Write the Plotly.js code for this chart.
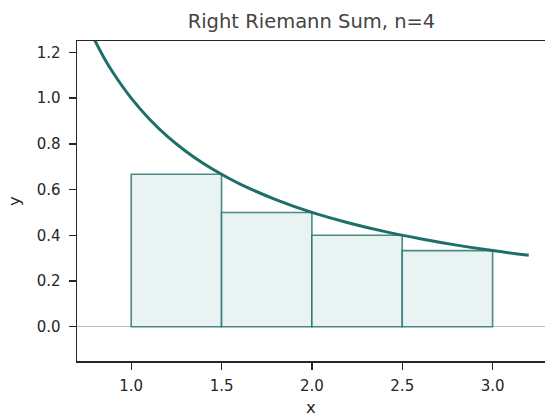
<!DOCTYPE html>
<html>
<head>
<meta charset="utf-8">
<script src="https://cdn.plot.ly/plotly-3.0.1.min.js"></script>
<style>html,body{margin:0;padding:0;background:#fff;}#chart{width:545px;height:417px;}</style>
</head>
<body>
<div id="chart"></div>
<script>
// Curve points y = 1/x
const curveX = [0.79, 0.85, 0.9, 1.0, 1.1, 1.2, 1.3, 1.4, 1.5, 1.6, 1.8, 2.0, 2.2, 2.4, 2.6, 2.8, 3.0, 3.2];
const curveY = [1.266, 1.176, 1.111, 1.0, 0.909, 0.833, 0.769, 0.714, 0.667, 0.625, 0.556, 0.5, 0.455, 0.417, 0.385, 0.357, 0.333, 0.3125];
// Right Riemann rectangles
const rectLeft = [1.0, 1.5, 2.0, 2.5];
const rectWidth = [0.5, 0.5, 0.5, 0.5];
const rectHeight = [0.667, 0.5, 0.4, 0.333];
const xTicks = [1.0, 1.5, 2.0, 2.5, 3.0];
const yTicks = [0.0, 0.2, 0.4, 0.6, 0.8, 1.0, 1.2];

const teal = '#1f6f69';
const axisColor = '#262626';
const font = 'DejaVu Sans, sans-serif';

const rects = {
  type: 'bar',
  x: rectLeft.map((l, i) => l + rectWidth[i] / 2),
  y: rectHeight,
  width: rectWidth,
  marker: {color: '#e9f3f2', line: {color: 'rgba(31,111,105,0.8)', width: 1.6}},
  hoverinfo: 'skip',
  showlegend: false
};
const curve = {
  type: 'scatter', mode: 'lines',
  x: curveX, y: curveY,
  line: {color: teal, width: 3, shape: 'spline'},
  showlegend: false
};

const layout = {
  width: 545, height: 417,
  margin: {l: 77, r: 0, t: 41, b: 56},
  paper_bgcolor: '#fff', plot_bgcolor: '#fff',
  font: {family: font, color: axisColor},
  title: {text: 'Right Riemann Sum, n=4', font: {family: font, size: 19.5, color: '#444444'},
          x: 0.5715, xanchor: 'center', yref: 'container', y: 0.966, yanchor: 'top'},
  bargap: 0,
  xaxis: {
    range: [0.7, 3.29], tickvals: xTicks, ticktext: xTicks.map(v => v.toFixed(1)),
    showgrid: false, zeroline: false, showline: true, mirror: true,
    linecolor: axisColor, linewidth: 1.5,
    ticks: 'outside', ticklen: 7, tickwidth: 1.3, tickcolor: axisColor,
    ticklabelstandoff: 3,
    tickfont: {size: 15, color: axisColor, family: font},
    title: {text: 'x', font: {size: 16.5, color: axisColor, family: font}, standoff: 16},
    automargin: false
  },
  yaxis: {
    range: [-0.15, 1.25], tickvals: yTicks, ticktext: yTicks.map(v => v.toFixed(1)),
    showgrid: false, zeroline: true, zerolinecolor: '#bdbdbd', zerolinewidth: 1,
    showline: true, mirror: false, linecolor: axisColor, linewidth: 1.5,
    ticks: 'outside', ticklen: 7, tickwidth: 1.3, tickcolor: axisColor,
    ticklabelstandoff: 5,
    tickfont: {size: 15, color: axisColor, family: font},
    title: {text: 'y', font: {size: 16.5, color: axisColor, family: font}, standoff: 12},
    automargin: false
  }
};
Plotly.newPlot('chart', [rects, curve], layout, {displayModeBar: false, staticPlot: true});
</script>
</body>
</html>
